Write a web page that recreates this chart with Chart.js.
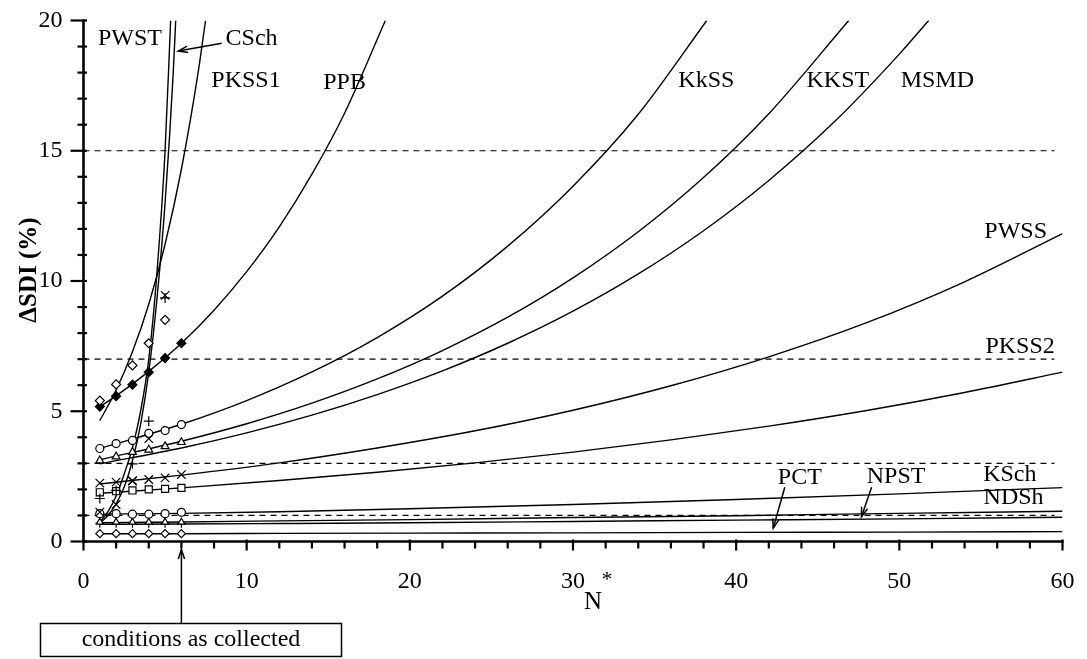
<!DOCTYPE html>
<html>
<head>
<meta charset="utf-8">
<script src="https://cdn.jsdelivr.net/npm/chart.js@4.4.1/dist/chart.umd.min.js"></script>
<style>
  html, body { margin: 0; padding: 0; background: #fff; }
  canvas { display: block; }
</style>
</head>
<body>
<canvas id="chart" width="1087" height="659"></canvas>
<script>
const SERIF = '"Liberation Serif", "Times New Roman", serif';

// Axis ranges and tick labels
const xTicks = [0, 10, 20, 30, 40, 50, 60];
const yTicks = [0, 5, 10, 15, 20];
const thresholdLevels = [15, 7, 3, 1];

// N* at which samples were measured ("conditions as collected")
const nCollected = [1, 2, 3, 4, 5, 6];
const nCollected5 = [1, 2, 3, 4, 5];

// Measured ΔSDI (%) values
const pwstMarks  = [1.65, 1.96, 2.98, 4.62, 9.35];
const cschMarks  = [1.13, 1.42, 2.32, 3.95, 9.45];
const pkss1Marks = [5.41, 6.03, 6.76, 7.61, 8.51];
const ppbMarks   = [5.18, 5.58, 6.02, 6.50, 7.04, 7.61];
const kkssMarks  = [3.57, 3.76, 3.88, 4.15, 4.26, 4.49];
const kkstMarks  = [3.11, 3.26, 3.43, 3.52, 3.65, 3.81];
const pwssMarks  = [2.24, 2.28, 2.34, 2.38, 2.44, 2.57];
const pkss2Marks = [1.89, 1.93, 1.96, 2.00, 2.02, 2.06];
const kschMarks  = [1.07, 1.07, 1.05, 1.05, 1.07, 1.12];
const ndshMarks  = [0.74, 0.74, 0.74, 0.74, 0.74, 0.74];
const npstMarks  = [0.70, 0.70, 0.70, 0.70, 0.70, 0.70];
const pctMarks   = [0.30, 0.30, 0.30, 0.30, 0.30, 0.30];

// Projected ΔSDI (%) curves versus N*
const pwstLineN  = [1, 1.5, 2, 2.5, 3, 3.5, 4, 4.5, 5, 5.34];
const pwstLineV  = [0.75, 1.15, 1.75, 2.6, 3.6, 5.0, 7.0, 10.3, 15.0, 20];
const cschLineN  = [1, 1.5, 2, 2.5, 3, 3.5, 4, 4.5, 5, 5.5, 5.65];
const cschLineV  = [0.7, 1.0, 1.45, 2.1, 3.1, 4.5, 6.5, 9.3, 13.0, 18.0, 20];
const pkss1LineN = [1, 2, 3, 4, 5, 6, 7, 7.48];
const pkss1LineV = [4.64, 5.81, 7.28, 9.11, 11.41, 14.29, 17.9, 20];
const ppbLineN   = [1, 2, 4, 6, 8, 10, 12, 14, 16, 18.5];
const ppbLineV   = [5.18, 5.59, 6.53, 7.61, 8.88, 10.36, 12.08, 14.1, 16.44, 20];
const kkssLineN  = [1, 6, 10, 14, 18, 22, 26, 30, 34, 38.2];
const kkssLineV  = [3.57, 4.5, 5.41, 6.51, 7.83, 9.42, 11.34, 13.64, 16.4, 20];
const kkstLineN  = [1, 6, 10, 14, 18, 22, 26, 30, 34, 38, 42, 46.9];
const kkstLineV  = [3.14, 3.85, 4.52, 5.31, 6.24, 7.33, 8.61, 10.12, 11.89, 13.97, 16.42, 20];
const msmdLineN  = [1, 6, 10, 14, 18, 22, 26, 30, 34, 38, 42, 46, 50, 51.8];
const msmdLineV  = [2.98, 3.59, 4.17, 4.85, 5.64, 6.55, 7.61, 8.84, 10.27, 11.93, 13.86, 16.1, 18.71, 20];
const longLineN  = [1, 6, 12, 18, 24, 30, 36, 42, 48, 54, 60];
const pwssLineV  = [2.21, 2.55, 3.02, 3.59, 4.25, 5.04, 5.98, 7.09, 8.40, 9.97, 11.82];
const pkss2LineV = [1.85, 2.06, 2.34, 2.66, 3.02, 3.43, 3.90, 4.43, 5.03, 5.72, 6.50];
const flatLineN  = [1, 6, 12, 20, 30, 40, 50, 60];
const kschLineV  = [1.05, 1.08, 1.14, 1.26, 1.42, 1.61, 1.83, 2.07];
const ndshLineV  = [0.72, 0.75, 0.79, 0.84, 0.92, 0.99, 1.08, 1.16];
const npstLineV  = [0.66, 0.67, 0.69, 0.72, 0.77, 0.82, 0.87, 0.93];
const pctLineV   = [0.30, 0.30, 0.31, 0.32, 0.33, 0.35, 0.36, 0.38];

const pts = (xs, ys) => xs.map((x, i) => ({ x, y: ys[i] }));

function curve(xs, ys) {
  return {
    type: 'line', data: pts(xs, ys), borderColor: '#000', borderWidth: 1.4,
    pointRadius: 0, cubicInterpolationMode: 'monotone', fill: false, order: 2
  };
}
function marks(xs, ys, style, radius, fillColor) {
  return {
    type: 'line', data: pts(xs, ys), showLine: false, pointStyle: style,
    pointRadius: radius, pointBorderColor: '#000', pointBackgroundColor: fillColor || '#fff',
    pointBorderWidth: 1.2, order: 0
  };
}
function threshold(level) {
  return {
    type: 'line', data: [{ x: 0, y: level }, { x: 59.5, y: level }],
    borderColor: '#000', borderWidth: 1.2, borderDash: [6, 5], pointRadius: 0, order: 3
  };
}

const datasets = [
  ...thresholdLevels.map(threshold),
  curve(pwstLineN, pwstLineV),
  curve(cschLineN, cschLineV),
  curve(pkss1LineN, pkss1LineV),
  curve(ppbLineN, ppbLineV),
  curve(kkssLineN, kkssLineV),
  curve(kkstLineN, kkstLineV),
  curve(msmdLineN, msmdLineV),
  curve(longLineN, pwssLineV),
  curve(longLineN, pkss2LineV),
  curve(flatLineN, kschLineV),
  curve(flatLineN, ndshLineV),
  curve(flatLineN, npstLineV),
  curve(flatLineN, pctLineV),
  marks(nCollected5, pwstMarks, 'cross', 5),
  marks(nCollected5, cschMarks, 'crossRot', 6),
  marks(nCollected5, pkss1Marks, 'rectRot', 4.5),
  marks(nCollected, ppbMarks, 'rectRot', 4.5, '#000'),
  marks(nCollected, kkssMarks, 'circle', 4),
  marks(nCollected, kkstMarks, 'triangle', 4.5),
  marks(nCollected, pwssMarks, 'crossRot', 6),
  marks(nCollected, pkss2Marks, 'rect', 5),
  marks(nCollected, kschMarks, 'circle', 4),
  marks(nCollected, ndshMarks, 'triangle', 4),
  marks(nCollected, npstMarks, 'cross', 4.5),
  marks(nCollected, pctMarks, 'rectRot', 4)
];

// Series names placed in data coordinates (N*, ΔSDI)
const seriesLabels = [
  ['PWST', 2.85, 19.31], ['CSch', 10.3, 19.31], ['PKSS1', 9.96, 17.7], ['PPB', 16.0, 17.62],
  ['KkSS', 38.17, 17.68], ['KKST', 46.23, 17.68], ['MSMD', 52.33, 17.68],
  ['PWSS', 57.13, 11.88], ['PKSS2', 57.4, 7.46], ['KSch', 56.77, 2.55], ['NDSh', 57.0, 1.67],
  ['PCT', 43.9, 2.46], ['NPST', 49.8, 2.47]
];
// Pointer arrows: [fromN, fromV, toN, toV]
const pointerArrows = [
  [8.47, 19.13, 5.81, 18.83],
  [42.98, 2.08, 42.27, 0.51],
  [48.3, 2.08, 47.68, 0.95]
];

function arrowHead(ctx, x1, y1, x2, y2, len) {
  const a = Math.atan2(y2 - y1, x2 - x1);
  ctx.beginPath();
  ctx.moveTo(x2 - len * Math.cos(a - 0.32), y2 - len * Math.sin(a - 0.32));
  ctx.lineTo(x2, y2);
  ctx.lineTo(x2 - len * Math.cos(a + 0.32), y2 - len * Math.sin(a + 0.32));
  ctx.stroke();
}
function seg(ctx, x1, y1, x2, y2) {
  ctx.beginPath(); ctx.moveTo(x1, y1); ctx.lineTo(x2, y2); ctx.stroke();
}

const overlay = {
  id: 'overlay',
  afterDraw(chart) {
    const { ctx } = chart;
    const xs = chart.scales.x, ys = chart.scales.y;
    const ax = xs.getPixelForValue(0), ay = ys.getPixelForValue(0);
    const top = ys.getPixelForValue(20), right = xs.getPixelForValue(60);
    ctx.save();
    ctx.strokeStyle = '#000';
    ctx.fillStyle = '#000';
    ctx.lineCap = 'butt';

    // axes
    ctx.lineWidth = 2.6;
    ctx.beginPath();
    ctx.moveTo(ax, top - 1); ctx.lineTo(ax, ay); ctx.lineTo(right + 1, ay);
    ctx.stroke();

    // y ticks every 1, major every 5
    ctx.lineWidth = 2.2;
    for (let v = 0; v <= 20; v++) {
      const py = ys.getPixelForValue(v);
      const major = v % 5 === 0;
      seg(ctx, ax - (major ? 13 : 6), py, ax + 3.5, py);
    }
    // x ticks every 2, major every 10
    for (let n = 0; n <= 60; n += 2) {
      const px = xs.getPixelForValue(n);
      const major = n % 10 === 0;
      seg(ctx, px, ay - (major ? 2 : 0), px, ay + (major ? 9 : 7));
    }

    // series names
    ctx.font = '24px ' + SERIF;
    ctx.textAlign = 'center';
    ctx.textBaseline = 'middle';
    seriesLabels.forEach(([t, n, v]) => {
      ctx.fillText(t, xs.getPixelForValue(n), ys.getPixelForValue(v));
    });

    // pointer arrows
    ctx.lineWidth = 1.5;
    pointerArrows.forEach(([n1, v1, n2, v2]) => {
      const x1 = xs.getPixelForValue(n1), y1 = ys.getPixelForValue(v1);
      const x2 = xs.getPixelForValue(n2), y2 = ys.getPixelForValue(v2);
      seg(ctx, x1, y1, x2, y2);
      arrowHead(ctx, x1, y1, x2, y2, 10);
    });

    // "conditions as collected" call-out at N* = 6
    const cx = xs.getPixelForValue(6);
    seg(ctx, cx, 623, cx, ay + 8);
    arrowHead(ctx, cx, 623, cx, ay + 8, 10);
    ctx.lineWidth = 1.5;
    ctx.strokeRect(40.5, 623.5, 301, 33);
    ctx.font = '24px ' + SERIF;
    ctx.fillText('conditions as collected', 191, 640);

    // axis titles
    ctx.font = '25px ' + SERIF;
    ctx.fillText('N', 593, 602);
    ctx.font = '22px ' + SERIF;
    ctx.fillText('*', 607, 580);

    ctx.save();
    ctx.translate(30, 270);
    ctx.rotate(-Math.PI / 2);
    ctx.font = 'bold 25px ' + SERIF;
    ctx.fillText('\u0394SDI (%)', 0, 0);
    ctx.restore();

    ctx.restore();
  }
};

new Chart(document.getElementById('chart'), {
  type: 'line',
  data: { datasets },
  options: {
    responsive: false,
    animation: false,
    layout: { padding: { top: 20.5, right: 24.5, left: 0, bottom: 0 } },
    plugins: { legend: { display: false }, tooltip: { enabled: false } },
    scales: {
      x: {
        type: 'linear', min: 0, max: 60,
        afterFit: s => { s.height = 117.5; s.paddingLeft = 0; s.paddingRight = 0; },
        afterBuildTicks: s => { s.ticks = xTicks.map(value => ({ value })); },
        grid: { display: false, drawTicks: false, tickLength: 0 },
        border: { display: false },
        ticks: { color: '#000', padding: 26, maxRotation: 0, autoSkip: false, font: { family: SERIF, size: 24 } }
      },
      y: {
        type: 'linear', min: 0, max: 20,
        afterFit: s => { s.width = 83.5; s.paddingTop = 0; s.paddingBottom = 0; },
        afterBuildTicks: s => { s.ticks = yTicks.map(value => ({ value })); },
        grid: { display: false, drawTicks: false, tickLength: 0 },
        border: { display: false },
        ticks: { color: '#000', padding: 21, autoSkip: false, font: { family: SERIF, size: 24 } }
      }
    }
  },
  plugins: [overlay]
});
</script>
</body>
</html>
